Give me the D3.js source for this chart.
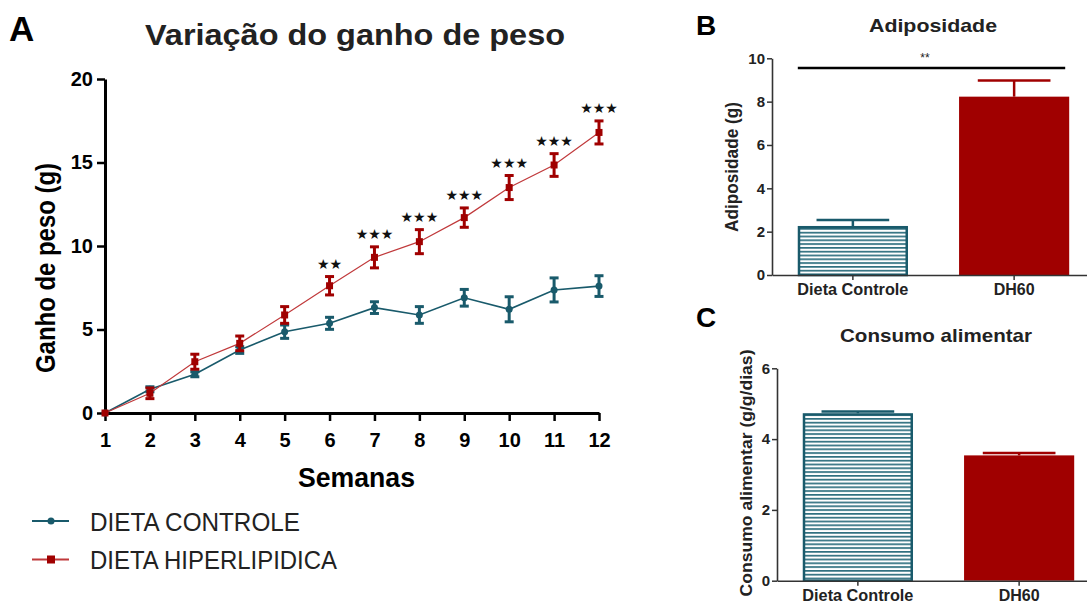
<!DOCTYPE html>
<html>
<head>
<meta charset="utf-8">
<script src="https://cdn.jsdelivr.net/npm/d3@7"></script>
<style>
  body { margin: 0; background: #fff; }
  svg { display: block; font-family: "Liberation Sans", Arial, sans-serif; }
</style>
</head>
<body>
<script>
// ---- data ----
const weeks = [1, 2, 3, 4, 5, 6, 7, 8, 9, 10, 11, 12];
const controlMean = [0, 1.42, 2.32, 3.77, 4.87, 5.37, 6.31, 5.87, 6.9, 6.21, 7.37, 7.6];
const controlSem  = [0, 0.15, 0.15, 0.2, 0.4, 0.36, 0.35, 0.5, 0.5, 0.75, 0.72, 0.62];
const hfdMean = [0, 1.18, 3.07, 4.17, 5.87, 7.62, 9.32, 10.26, 11.7, 13.5, 14.85, 16.8];
const hfdSem  = [0, 0.32, 0.45, 0.44, 0.5, 0.55, 0.63, 0.72, 0.58, 0.72, 0.68, 0.69];
const weekSig = ["", "", "", "", "", "**", "***", "***", "***", "***", "***", "***"];
const yTicksA = [0, 5, 10, 15, 20];

const groups = ["Dieta Controle", "DH60"];
const adipMean = [2.26, 8.23];
const adipSem  = [0.28, 0.74];
const yTicksB = [0, 2, 4, 6, 8, 10];

const consMean = [4.73, 3.54];
const consSem  = [0.05, 0.07];
const yTicksC = [0, 2, 4, 6];

const legendLabels = ["DIETA CONTROLE", "DIETA HIPERLIPIDICA"];

const TEAL = "#195a6b", RED = "#a00000", RED_LINE = "#c0393b";

let svg = d3.select("body").append("svg").attr("width", 1087).attr("height", 606);

// stripe pattern for control bars
let pat = svg.append("defs").append("pattern")
    .attr("id", "stripes").attr("patternUnits", "userSpaceOnUse")
    .attr("width", 8).attr("height", 3.8);
pat.append("rect").attr("width", 8).attr("height", 3.8).attr("fill", "#fff");
pat.append("rect").attr("y", 0).attr("width", 8).attr("height", 1.7).attr("fill", "#2f6f7f");

// helper: text squeezed/stretched to a measured width
function label(sel, txt, size, len) {
  return sel.text(txt).attr("font-size", size).attr("font-weight", "bold")
            .attr("textLength", len).attr("lengthAdjust", "spacingAndGlyphs");
}

// ================= Panel A =================
let x = d3.scaleLinear().domain([1, 12]).range([105, 599]);
let y = d3.scaleLinear().domain([0, 20]).range([413, 79]);

svg.append("text").attr("x", 9).attr("y", 41).text("A")
   .attr("font-size", 35).attr("font-weight", "bold");
label(svg.append("text").attr("x", 145).attr("y", 45).attr("fill", "#222"),
      "Variação do ganho de peso", 29, 420);

let gyA = svg.append("g").attr("transform", "translate(105,0)")
   .call(d3.axisLeft(y).tickValues(yTicksA).tickSize(8).tickSizeOuter(0));
let gxA = svg.append("g").attr("transform", "translate(0,413)")
   .call(d3.axisBottom(x).tickValues(weeks).tickSize(8).tickSizeOuter(0).tickFormat(d3.format("d")));
[gyA, gxA].forEach(g => {
  g.select(".domain").attr("stroke", "#000").attr("stroke-width", 3);
  g.selectAll(".tick line").attr("stroke", "#000").attr("stroke-width", 2.5);
  g.selectAll(".tick text").attr("font-size", 20).attr("font-weight", "bold")
   .attr("font-family", "Liberation Sans, Arial, sans-serif").attr("fill", "#000");
});
gyA.selectAll(".tick text").attr("x", -12);
gxA.selectAll(".tick text").attr("y", 20);

label(svg.append("text").attr("transform", "translate(55,268) rotate(-90)")
   .attr("text-anchor", "middle"), "Ganho de peso (g)", 28, 210);
label(svg.append("text").attr("x", 298).attr("y", 487), "Semanas", 27, 117);

function drawSeries(means, sems, lineColor, markColor, lineW, marker) {
  let data = weeks.map((w, i) => ({w: w, m: means[i], s: sems[i]}));
  svg.append("path").datum(data)
     .attr("fill", "none").attr("stroke", lineColor).attr("stroke-width", lineW)
     .attr("d", d3.line().x(d => x(d.w)).y(d => y(d.m)));
  let eb = svg.append("g").selectAll("g").data(data.filter(d => d.s > 0)).enter().append("g")
     .attr("stroke", markColor).attr("stroke-width", 3);
  eb.append("line").attr("x1", d => x(d.w)).attr("x2", d => x(d.w))
     .attr("y1", d => y(d.m - d.s)).attr("y2", d => y(d.m + d.s));
  eb.append("line").attr("x1", d => x(d.w) - 4.5).attr("x2", d => x(d.w) + 4.5)
     .attr("y1", d => y(d.m + d.s)).attr("y2", d => y(d.m + d.s));
  eb.append("line").attr("x1", d => x(d.w) - 4.5).attr("x2", d => x(d.w) + 4.5)
     .attr("y1", d => y(d.m - d.s)).attr("y2", d => y(d.m - d.s));
  if (marker === "circle") {
    svg.append("g").selectAll("circle").data(data).enter().append("circle")
       .attr("cx", d => x(d.w)).attr("cy", d => y(d.m)).attr("r", 3.5).attr("fill", markColor);
  } else {
    svg.append("g").selectAll("rect").data(data).enter().append("rect")
       .attr("x", d => x(d.w) - 3.5).attr("y", d => y(d.m) - 3.5)
       .attr("width", 7).attr("height", 7).attr("fill", markColor);
  }
}
drawSeries(controlMean, controlSem, TEAL, TEAL, 1.6, "circle");
drawSeries(hfdMean, hfdSem, RED_LINE, RED, 1.2, "square");

// significance stars
svg.append("g").selectAll("text").data(weeks.map((w, i) => ({w: w, i: i})).filter(d => weekSig[d.i]))
   .enter().append("text")
   .attr("x", d => x(d.w)).attr("y", d => y(hfdMean[d.i] + hfdSem[d.i]) - 8)
   .attr("text-anchor", "middle").attr("font-size", 14)
   .attr("font-family", "DejaVu Sans, sans-serif").attr("fill", "#111")
   .text(d => weekSig[d.i].replace(/\*/g, "★"));

// legend
let leg = svg.append("g");
const legLen = [210, 247];
[[TEAL, TEAL, "circle"], [RED_LINE, RED, "square"]].forEach((c, i) => {
  let ly = 521 + i * 38.5;
  leg.append("line").attr("x1", 32).attr("x2", 69).attr("y1", ly).attr("y2", ly)
     .attr("stroke", c[0]).attr("stroke-width", 1.8);
  if (c[2] === "circle") leg.append("circle").attr("cx", 51).attr("cy", ly).attr("r", 3.5).attr("fill", c[1]);
  else leg.append("rect").attr("x", 47).attr("y", ly - 4).attr("width", 8).attr("height", 8).attr("fill", c[1]);
  leg.append("text").attr("x", 90).attr("y", ly + 9.5).text(legendLabels[i])
     .attr("font-size", 25).attr("fill", "#222")
     .attr("textLength", legLen[i]).attr("lengthAdjust", "spacingAndGlyphs");
});

// ================= Bar panels =================
function barPanel(opt) {
  let xb = d3.scaleBand().domain(groups).range([opt.x0, opt.x0 + 323])
             .paddingInner(0.317).paddingOuter(0.16);
  let yb = d3.scaleLinear().domain(opt.domain).range([opt.y0, opt.y1]);

  svg.append("text").attr("x", 696).attr("y", opt.letterY).text(opt.letter)
     .attr("font-size", 28).attr("font-weight", "bold");
  label(svg.append("text").attr("x", opt.titleX).attr("y", opt.titleY).attr("text-anchor", "middle")
     .attr("fill", "#222"), opt.title, 19, opt.titleLen);

  // bars
  groups.forEach((gname, i) => {
    let bx = xb(gname), bw = xb.bandwidth(), cx = bx + bw / 2;
    let col = i === 0 ? TEAL : RED;
    let top = yb(opt.means[i]), etop = yb(opt.means[i] + opt.sems[i]);
    svg.append("line").attr("x1", cx).attr("x2", cx).attr("y1", top).attr("y2", etop)
       .attr("stroke", col).attr("stroke-width", 2.5);
    svg.append("line").attr("x1", cx - bw * 0.33).attr("x2", cx + bw * 0.33).attr("y1", etop).attr("y2", etop)
       .attr("stroke", col).attr("stroke-width", 2.5);
    if (i === 0) {
      svg.append("rect").attr("x", bx + 1.2).attr("y", top + 1.2)
         .attr("width", bw - 2.4).attr("height", opt.y0 - top - 1.2)
         .attr("fill", "url(#stripes)").attr("stroke", TEAL).attr("stroke-width", 2.5);
    } else {
      svg.append("rect").attr("x", bx).attr("y", top)
         .attr("width", bw).attr("height", opt.y0 - top).attr("fill", RED);
    }
  });

  let gy = svg.append("g").attr("transform", "translate(" + opt.x0 + ",0)")
     .call(d3.axisLeft(yb).tickValues(opt.ticks).tickSize(5).tickSizeOuter(0).tickFormat(d3.format("d")));
  let gx = svg.append("g").attr("transform", "translate(0," + opt.y0 + ")")
     .call(d3.axisBottom(xb).tickSize(5).tickSizeOuter(0));
  [gy, gx].forEach(g => {
    g.select(".domain").attr("stroke", "#333").attr("stroke-width", 1.6);
    g.selectAll(".tick line").attr("stroke", "#333").attr("stroke-width", 1.5);
    g.selectAll(".tick text").attr("font-size", 15).attr("font-weight", "bold")
     .attr("font-family", "Liberation Sans, Arial, sans-serif").attr("fill", "#222");
  });
  gy.selectAll(".tick text").attr("x", -7);
  gx.selectAll(".tick text").attr("y", 9).attr("font-size", 16);
  gx.selectAll(".tick text").filter(d => d === groups[0])
    .attr("textLength", 111).attr("lengthAdjust", "spacingAndGlyphs");

  label(svg.append("text").attr("transform", "translate(" + opt.ylabX + "," + opt.ylabY + ") rotate(-90)")
     .attr("text-anchor", "middle").attr("fill", "#222"), opt.ylab, opt.ylabSize, opt.ylabLen);
  return {xb: xb, yb: yb};
}

let pB = barPanel({
  letter: "B", letterY: 35, title: "Adiposidade", titleX: 933, titleY: 32, titleLen: 128,
  x0: 772, y0: 275, y1: 58.3, domain: [0, 10], ticks: yTicksB,
  means: adipMean, sems: adipSem, ylab: "Adiposidade (g)", ylabX: 738, ylabY: 167,
  ylabSize: 17.5, ylabLen: 130
});
// significance bracket
svg.append("line").attr("x1", pB.xb(groups[0])).attr("x2", pB.xb(groups[1]) + pB.xb.bandwidth() - 4)
   .attr("y1", pB.yb(9.55)).attr("y2", pB.yb(9.55)).attr("stroke", "#000").attr("stroke-width", 2.5);
svg.append("text").attr("x", 925).attr("y", pB.yb(9.55) - 6).attr("text-anchor", "middle")
   .text("**").attr("font-size", 12).attr("fill", "#222");

barPanel({
  letter: "C", letterY: 327, title: "Consumo alimentar", titleX: 936, titleY: 342, titleLen: 192,
  x0: 777, y0: 580.7, y1: 368.3, domain: [0, 6], ticks: yTicksC,
  means: consMean, sems: consSem, ylab: "Consumo alimentar (g/g/dias)", ylabX: 752, ylabY: 473,
  ylabSize: 16, ylabLen: 247
});
</script>
</body>
</html>
